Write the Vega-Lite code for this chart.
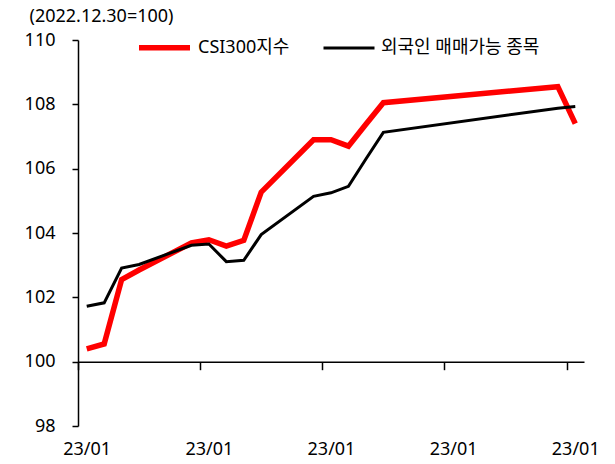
{
  "$schema": "https://vega.github.io/schema/vega-lite/v6.json",
  "width": 506,
  "height": 386,
  "autosize": {"type": "none"},
  "padding": {"left": 78, "top": 40, "right": 31, "bottom": 38},
  "background": "white",
  "config": {
    "font": "Noto Sans, Noto Sans CJK KR",
    "view": {"stroke": null},
    "axis": {"grid": false, "domainColor": "black", "tickColor": "black", "labelColor": "black", "titleColor": "black", "labelFontSize": 18, "titleFontSize": 18, "titleFontWeight": "normal", "domainWidth": 1.5, "tickWidth": 1.5}
  },
  "data": {
    "values": [
      {"date": "2023-01-03T00:00", "series": "CSI300지수", "value": 100.40},
      {"date": "2023-01-04T00:00", "series": "CSI300지수", "value": 100.55},
      {"date": "2023-01-05T00:00", "series": "CSI300지수", "value": 102.55},
      {"date": "2023-01-06T00:00", "series": "CSI300지수", "value": 102.85},
      {"date": "2023-01-09T00:00", "series": "CSI300지수", "value": 103.69},
      {"date": "2023-01-10T00:00", "series": "CSI300지수", "value": 103.79},
      {"date": "2023-01-11T00:00", "series": "CSI300지수", "value": 103.59},
      {"date": "2023-01-12T00:00", "series": "CSI300지수", "value": 103.77},
      {"date": "2023-01-13T00:00", "series": "CSI300지수", "value": 105.27},
      {"date": "2023-01-16T00:00", "series": "CSI300지수", "value": 106.90},
      {"date": "2023-01-17T00:00", "series": "CSI300지수", "value": 106.90},
      {"date": "2023-01-18T00:00", "series": "CSI300지수", "value": 106.70},
      {"date": "2023-01-19T00:00", "series": "CSI300지수", "value": 107.38},
      {"date": "2023-01-20T00:00", "series": "CSI300지수", "value": 108.05},
      {"date": "2023-01-30T00:00", "series": "CSI300지수", "value": 108.55},
      {"date": "2023-01-31T00:00", "series": "CSI300지수", "value": 107.40},
      {"date": "2023-01-03T00:00", "series": "외국인 매매가능 종목", "value": 101.72},
      {"date": "2023-01-04T00:00", "series": "외국인 매매가능 종목", "value": 101.83},
      {"date": "2023-01-05T00:00", "series": "외국인 매매가능 종목", "value": 102.91},
      {"date": "2023-01-06T00:00", "series": "외국인 매매가능 종목", "value": 103.02},
      {"date": "2023-01-09T00:00", "series": "외국인 매매가능 종목", "value": 103.62},
      {"date": "2023-01-10T00:00", "series": "외국인 매매가능 종목", "value": 103.66},
      {"date": "2023-01-11T00:00", "series": "외국인 매매가능 종목", "value": 103.11},
      {"date": "2023-01-12T00:00", "series": "외국인 매매가능 종목", "value": 103.15},
      {"date": "2023-01-13T00:00", "series": "외국인 매매가능 종목", "value": 103.95},
      {"date": "2023-01-16T00:00", "series": "외국인 매매가능 종목", "value": 105.14},
      {"date": "2023-01-17T00:00", "series": "외국인 매매가능 종목", "value": 105.25},
      {"date": "2023-01-18T00:00", "series": "외국인 매매가능 종목", "value": 105.45},
      {"date": "2023-01-19T00:00", "series": "외국인 매매가능 종목", "value": 106.30},
      {"date": "2023-01-20T00:00", "series": "외국인 매매가능 종목", "value": 107.13},
      {"date": "2023-01-30T00:00", "series": "외국인 매매가능 종목", "value": 107.88},
      {"date": "2023-01-31T00:00", "series": "외국인 매매가능 종목", "value": 107.93}
    ]
  },
  "mark": {"type": "line"},
  "encoding": {
    "x": {
      "field": "date",
      "type": "temporal",
      "scale": {"domain": [{"year": 2023, "month": 1, "date": 2, "hours": 12}, {"year": 2023, "month": 1, "date": 31, "hours": 12}]},
      "axis": {
        "title": null,
        "values": [
          {"year": 2023, "month": 1, "date": 2, "hours": 12},
          {"year": 2023, "month": 1, "date": 9, "hours": 12},
          {"year": 2023, "month": 1, "date": 16, "hours": 12},
          {"year": 2023, "month": 1, "date": 23, "hours": 12},
          {"year": 2023, "month": 1, "date": 30, "hours": 12}
        ],
        "labelExpr": "timeFormat(datum.value, '%y/%m')",
        "offset": -64.3,
        "tickSize": 8,
        "labelPadding": 71,
        "labelOffset": 8.7,
        "labelFlush": false,
        "labelOverlap": false
      }
    },
    "y": {
      "field": "value",
      "type": "quantitative",
      "scale": {"domain": [98, 110], "nice": false, "zero": false},
      "axis": {
        "values": [98, 100, 102, 104, 106, 108, 110],
        "tickSize": 6,
        "labelPadding": 17,
        "title": "(2022.12.30=100)",
        "titleAngle": 0,
        "titleAlign": "left",
        "titleBaseline": "alphabetic",
        "titleX": -49,
        "titleY": -19
      }
    },
    "color": {
      "field": "series",
      "type": "nominal",
      "scale": {"domain": ["CSI300지수", "외국인 매매가능 종목"], "range": ["#ff0000", "#000000"]},
      "legend": {
        "title": null,
        "orient": "none",
        "direction": "horizontal",
        "legendX": 58,
        "legendY": -21,
        "padding": 0,
        "symbolType": "stroke",
        "symbolSize": 2601,
        "labelFontSize": 18,
        "labelColor": "black",
        "labelOffset": 5,
        "columnPadding": 27
      }
    },
    "strokeWidth": {
      "field": "series",
      "type": "nominal",
      "scale": {"domain": ["CSI300지수", "외국인 매매가능 종목"], "range": [5.5, 3]},
      "legend": {
        "title": null,
        "orient": "none",
        "direction": "horizontal",
        "legendX": 58,
        "legendY": -21,
        "padding": 0,
        "symbolType": "stroke",
        "symbolSize": 2601,
        "labelFontSize": 18,
        "labelColor": "black",
        "labelOffset": 5,
        "columnPadding": 27
      }
    }
  }
}
